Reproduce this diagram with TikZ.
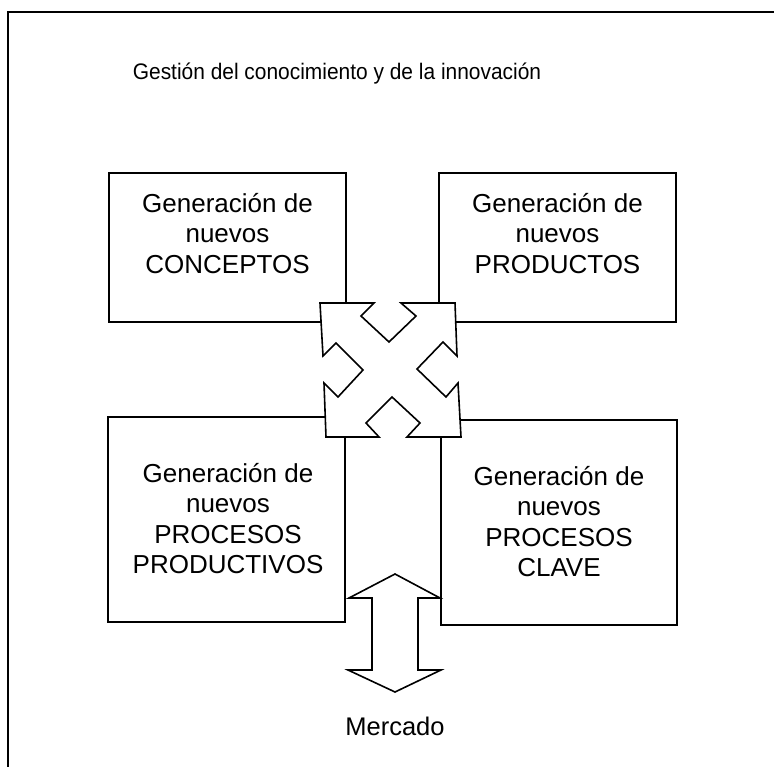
\documentclass[tikz,border=0pt]{standalone}
\usepackage{fontspec}
\setmainfont{Liberation Sans}
\newfontfamily\titlefont[FakeStretch=0.93]{Liberation Sans}
\begin{document}
\begin{tikzpicture}[x=1pt,y=-1pt,
  box/.style={draw, line width=1.6pt, inner sep=0pt},
  lbl/.style={align=center, inner sep=0pt, font=\fontsize{26}{30.5}\selectfont},
  bigarrow/.style={draw, fill=white, line width=1.6pt, line join=miter}
]
\useasboundingbox (0,0) rectangle (774,767);
\clip (0,0) rectangle (774,767);
\draw[line width=2pt] (8,12) rectangle (820,820);

\node[anchor=base, inner sep=0pt, font=\titlefont\fontsize{22.5}{26}\selectfont] (title) at (337,80) {Gestión del conocimiento y de la innovación};

\node[box, minimum width=237pt, minimum height=149pt] (c1) at (227.5,247.5) {};
\node[box, minimum width=237pt, minimum height=149pt] (c2) at (557.5,247.5) {};
\node[box, minimum width=237pt, minimum height=205pt] (c3) at (226.5,519.5) {};
\node[box, minimum width=236pt, minimum height=205pt] (c4) at (559,522.5) {};

\node[lbl, anchor=north] (t1) at (227.5,193) {Generación de\\nuevos\\CONCEPTOS};
\node[lbl, anchor=north] (t2) at (557.5,193) {Generación de\\nuevos\\PRODUCTOS};
\node[lbl, anchor=north] (t3) at (228,463) {Generación de\\nuevos\\PROCESOS\\PRODUCTIVOS};
\node[lbl, anchor=north] (t4) at (559,466) {Generación de\\nuevos\\PROCESOS\\CLAVE};

% four-way arrow
\draw[bigarrow] (320,303) -- (374,303) -- (361,316) -- (389,342) -- (416,316) -- (401,303)
  -- (455,303) -- (457,356) -- (443,342) -- (417,369) -- (446,397) -- (458,383)
  -- (461,437) -- (407,437) -- (420,423) -- (392,397) -- (366,423) -- (379,437)
  -- (326,437) -- (324,383) -- (338,397) -- (363,370) -- (336,343) -- (323,356) -- cycle;

% up-down arrow
\draw[bigarrow] (395,574) -- (440,598) -- (418,598) -- (418,670) -- (441,670) -- (395,692)
  -- (348,670) -- (372,670) -- (372,598) -- (349,598) -- cycle;

\node[anchor=base, inner sep=0pt, font=\fontsize{25.5}{30}\selectfont] (mk) at (395,735) {Mercado};
\end{tikzpicture}
\end{document}
